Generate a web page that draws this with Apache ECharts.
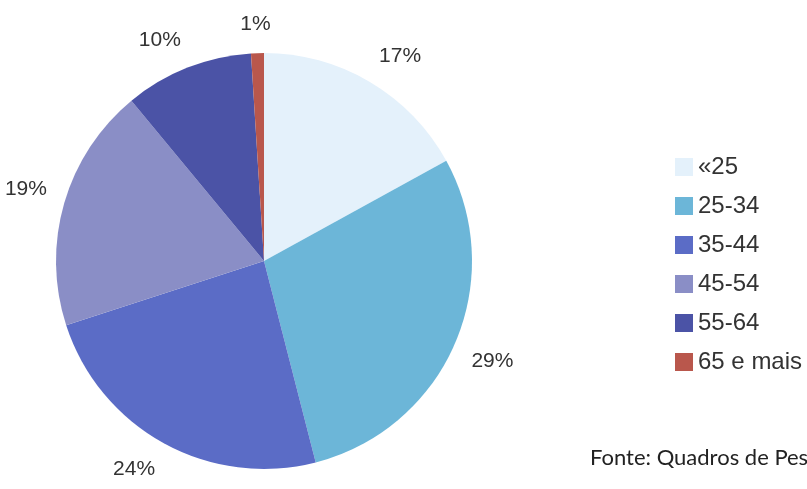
<!DOCTYPE html>
<html><head><meta charset="utf-8">
<script src="https://cdn.jsdelivr.net/npm/echarts@6/dist/echarts.min.js"></script>
<style>html,body{margin:0;padding:0;background:#fff}#c{width:807px;height:489px}</style>
</head><body><div id="c"></div>
<script>
const categories = ['«25', '25-34', '35-44', '45-54', '55-64', '65 e mais'];
const values = [17, 29, 24, 19, 10, 1];
const colors = ['#e4f1fb', '#6cb6d8', '#5b6cc6', '#8a8ec6', '#4b53a6', '#b9574c'];
const footnote = 'Fonte: Quadros de Pessoal';

const CX = 264, CY = 261, R = 208, LABEL_R = 226;
const pieData = categories.map((c, i) => ({name: c, value: values[i]}));
const clamp = v => Math.max(-1, Math.min(1, v));

const chart = echarts.init(document.getElementById('c'), null, {renderer: 'canvas'});
chart.setOption({
  animation: false,
  backgroundColor: '#ffffff',
  color: colors,
  title: {
    text: footnote, left: 590, top: 447, padding: 0,
    textStyle: {fontFamily: 'Lato', fontSize: 22, fontWeight: 'normal', color: '#222'}
  },
  legend: {
    data: categories,
    orient: 'vertical', left: 675, top: 155, padding: 0,
    itemWidth: 18, itemHeight: 18, itemGap: 15,
    icon: 'rect',
    textStyle: {fontFamily: 'Arial, Liberation Sans, sans-serif', fontSize: 24, color: '#333', lineHeight: 24}
  },
  series: [{
    type: 'pie',
    center: [CX, CY],
    radius: R,
    startAngle: 90,
    clockwise: true,
    data: pieData,
    label: {show: false},
    labelLine: {show: false},
    itemStyle: {borderWidth: 0},
    emphasis: {disabled: true}
  }, {
    type: 'pie',
    center: [CX, CY],
    radius: [230, 250],
    startAngle: 90,
    clockwise: true,
    silent: true,
    data: pieData,
    itemStyle: {color: 'rgba(0,0,0,0)', borderWidth: 0},
    label: {
      show: true, position: 'inside',
      formatter: '{c}%',
      fontFamily: 'Arial, Liberation Sans, sans-serif', fontSize: 21, color: '#333'
    },
    labelLayout: function (p) {
      const r = p.labelRect;
      const cx = r.x + r.width / 2, cy = r.y + r.height / 2;
      const th = Math.atan2(-(cy - CY), cx - CX);
      const c = Math.cos(th), s = Math.sin(th);
      const tx = CX + LABEL_R * c + r.width / 2 * clamp(3 * c);
      const ty = CY - LABEL_R * s - r.height / 2 * clamp(3 * s);
      return {dx: tx - cx, dy: ty - cy};
    },
    labelLine: {show: false},
    emphasis: {disabled: true}
  }]
});
</script></body></html>
